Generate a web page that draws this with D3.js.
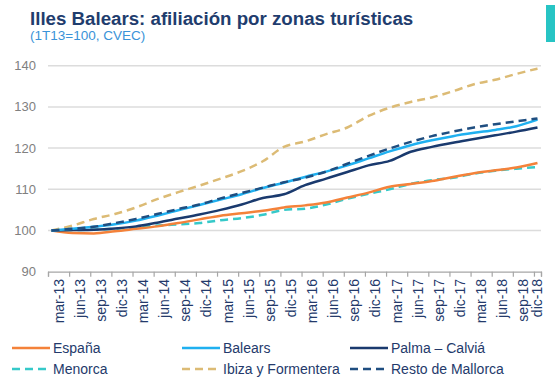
<!DOCTYPE html>
<html>
<head>
<meta charset="utf-8">
<script src="https://d3js.org/d3.v7.min.js"></script>
<style>
  body { margin: 0; background: #fff; }
  text { font-family: "Liberation Sans", Arial, Helvetica, sans-serif; }
  .title { font-size: 18.7px; font-weight: bold; fill: #1f3d6e; }
  .subtitle { font-size: 13.5px; fill: #3a93d8; }
  .ylab { font-size: 13px; fill: #808080; }
  .xlab { font-size: 14px; fill: #243a6b; }
  .leg { font-size: 14px; fill: #243a6b; }
</style>
</head>
<body>
<script>
  let width = 555, height = 389;

  // quarter labels (mar, jun, sep, dic from 2013 to 2018)
  let quarters = ['mar-13','jun-13','sep-13','dic-13','mar-14','jun-14','sep-14','dic-14',
                  'mar-15','jun-15','sep-15','dic-15','mar-16','jun-16','sep-16','dic-16',
                  'mar-17','jun-17','sep-17','dic-17','mar-18','jun-18','sep-18','dic-18'];
  let yTicks = [90, 100, 110, 120, 130, 140];

  // values read at each quarter, 1T13 = 100
  let espana   = [100, 99.4, 99.3, 99.8, 100.4, 101.0, 101.8, 102.7, 103.6, 104.2, 104.8, 105.6,
                  106.1, 106.8, 108.0, 109.2, 110.6, 111.3, 112.0, 113.0, 113.9, 114.6, 115.3, 116.4];
  let balears  = [100, 100.4, 100.9, 101.5, 102.4, 103.6, 104.9, 106.2, 107.5, 108.8, 110.3, 111.6,
                  113.0, 114.3, 115.8, 117.5, 119.2, 120.7, 121.9, 122.9, 123.7, 124.4, 125.3, 126.9];
  let palma    = [100, 100.1, 100.2, 100.5, 101.0, 101.9, 102.9, 103.9, 105.0, 106.3, 107.9, 108.8,
                  111.0, 112.6, 114.2, 115.8, 116.9, 119.1, 120.3, 121.3, 122.2, 123.1, 124.0, 125.0];
  let menorca  = [100, 100.1, 100.2, 100.4, 100.8, 101.2, 101.5, 101.8, 102.5, 103.0, 103.8, 105.0,
                  105.3, 106.3, 107.7, 108.9, 110.0, 111.3, 112.2, 112.8, 113.8, 114.5, 115.0, 115.4];
  let ibiza    = [100, 101.2, 102.8, 104.0, 105.6, 107.6, 109.3, 110.9, 112.6, 114.4, 116.8, 120.3,
                  121.6, 123.4, 125.0, 127.8, 129.8, 131.2, 132.3, 133.8, 135.5, 136.6, 138.0, 139.3];
  let resto    = [100, 100.4, 100.9, 101.8, 102.8, 104.0, 105.2, 106.3, 107.8, 109.1, 110.4, 111.7,
                  112.8, 114.3, 116.2, 118.1, 119.9, 121.5, 122.9, 124.0, 125.0, 125.8, 126.5, 127.2];

  let series = [
    {name: 'España', values: espana, color: '#f4823a', dash: null},
    {name: 'Balears', values: balears, color: '#1fb0f0', dash: null},
    {name: 'Palma – Calviá', values: palma, color: '#1a3a6e', dash: null},
    {name: 'Menorca', values: menorca, color: '#36c9c9', dash: '8,5'},
    {name: 'Ibiza y Formentera', values: ibiza, color: '#dcbb75', dash: '8,5'},
    {name: 'Resto de Mallorca', values: resto, color: '#1f4e80', dash: '8,5'}
  ];

  let svg = d3.select('body').append('svg').attr('width', width).attr('height', height);

  // title block
  svg.append('text').classed('title', true).attr('x', 30).attr('y', 25)
     .text('Illes Balears: afiliación por zonas turísticas');
  svg.append('text').classed('subtitle', true).attr('x', 30).attr('y', 40)
     .text('(1T13=100, CVEC)');
  svg.append('rect').attr('x', 546).attr('y', 5).attr('width', 9).attr('height', 37).attr('fill', '#27c4c4');

  // monthly positions: 70 months mar-13..dic-18, quarter i sits at month 3*i
  let x = d3.scaleLinear().domain([-0.5, 69.5]).range([48, 541]);
  let y = d3.scaleLinear().domain([90, 140]).range([271.7, 65.7]);

  // gridlines
  svg.append('g').selectAll('line').data(yTicks.filter(d => d > 90)).enter().append('line')
     .attr('x1', 48).attr('x2', 541)
     .attr('y1', d => y(d)).attr('y2', d => y(d))
     .attr('stroke', '#dcdcdc').attr('stroke-width', 1.5);

  // y labels
  svg.append('g').selectAll('text').data(yTicks).enter().append('text').classed('ylab', true)
     .attr('x', 36).attr('y', d => y(d)).attr('dy', '0.35em').attr('text-anchor', 'end')
     .text(d => d);

  // x axis: ticks between quarter groups
  let tickPos = quarters.map((q, i) => i * 3 - 0.5).concat([69.5]);
  let xAxis = svg.append('g').attr('transform', 'translate(0,' + y(90) + ')')
     .call(d3.axisBottom(x).tickValues(tickPos).tickSize(5).tickFormat(''));
  xAxis.select('.domain').attr('stroke', '#a6a6a6').attr('stroke-width', 1.2);
  xAxis.selectAll('.tick line').attr('stroke', '#a6a6a6').attr('stroke-width', 1.2);

  // x labels centred in each tick interval
  svg.append('g').selectAll('text').data(quarters).enter().append('text').classed('xlab', true)
     .attr('transform', (d, i) => {
       let c = (i * 3 + Math.min(i * 3 + 2, 69)) / 2;
       return 'translate(' + (x(c) + 5) + ',' + 279 + ') rotate(-90)';
     })
     .attr('text-anchor', 'end')
     .text(d => d);

  // lines
  let line = d3.line().x((d, i) => x(i * 3)).y(d => y(d)).curve(d3.curveMonotoneX);
  let drawOrder = [4, 3, 0, 2, 1, 5];
  svg.append('g').selectAll('path').data(drawOrder.map(i => series[i])).enter().append('path')
     .attr('d', d => line(d.values))
     .attr('fill', 'none')
     .attr('stroke', d => d.color)
     .attr('stroke-width', 2.5)
     .attr('stroke-dasharray', d => d.dash);

  // legend
  let legX = [12, 182, 350], legY = [348, 369];
  let legend = svg.append('g').selectAll('g').data(series).enter().append('g')
     .attr('transform', (d, i) => 'translate(' + legX[i % 3] + ',' + legY[Math.floor(i / 3)] + ')');
  legend.append('line').attr('x1', 0).attr('x2', 38).attr('y1', 0).attr('y2', 0)
     .attr('stroke', d => d.color).attr('stroke-width', 2.5)
     .attr('stroke-dasharray', d => d.dash);
  legend.append('text').classed('leg', true).attr('x', 41).attr('dy', '0.35em').text(d => d.name);
</script>
</body>
</html>
